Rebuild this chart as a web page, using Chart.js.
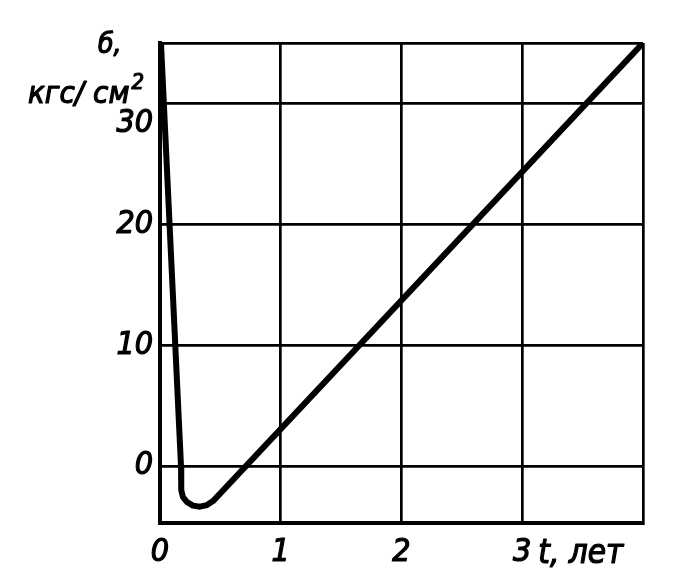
<!DOCTYPE html>
<html>
<head>
<meta charset="utf-8">
<script src="https://cdn.jsdelivr.net/npm/chart.js@4"></script>
<style>
  html, body { margin: 0; padding: 0; background: #fff; }
  canvas { display: block; }
</style>
</head>
<body>
<canvas id="c" width="676" height="578"></canvas>
<script>
// Time, years
const tYears = [0.008, 0.174, 0.176, 0.19, 0.224, 0.273, 0.331, 0.389, 0.439, 4.0];
// Stress σ, kgf/cm²
const sigma  = [35, 0, -1.98, -2.56, -2.98, -3.26, -3.35, -3.22, -2.89, 35];

const xTicks = [0, 1, 2, 3, 4];
const xTickLabels = ['0', '1', '2', '3', ''];
const yTicks = [0, 10, 20, 30, 35];
const yTickLabels = ['0', '10', '20', ['', '30'], ''];

const xUnit = 't, лет';
const yUnitTop = 'б,';
const yUnitBottom = 'кгс/ см';
const yUnitSup = '2';

const FONT = "'DejaVu Sans Condensed', 'DejaVu Sans', sans-serif";

function heavyText(ctx, txt, x, y) {
  ctx.fillText(txt, x, y);
  ctx.strokeText(txt, x, y);
}

const unitsPlugin = {
  id: 'units',
  afterDraw(chart) {
    const ctx = chart.ctx;
    const xs = chart.scales.x;
    const ca = chart.chartArea;
    ctx.save();
    ctx.fillStyle = '#000';
    ctx.strokeStyle = '#000';
    ctx.lineWidth = 1.2;
    ctx.lineJoin = 'round';
    ctx.textBaseline = 'alphabetic';
    ctx.textAlign = 'left';
    // x unit after tick "3"
    ctx.font = "italic 33px " + FONT;
    heavyText(ctx, xUnit, xs.getPixelForValue(3) + 16, ca.bottom + 40);
    // y unit
    ctx.font = "italic 28px " + FONT;
    heavyText(ctx, yUnitTop, ca.left - 62, ca.top + 10);
    ctx.font = "italic 31px " + FONT;
    heavyText(ctx, yUnitBottom, ca.left - 132, ca.top + 60);
    const w = ctx.measureText(yUnitBottom).width;
    ctx.font = "italic 22px " + FONT;
    heavyText(ctx, yUnitSup, ca.left - 132 + w + 2, ca.top + 46);
    ctx.restore();
  }
};

new Chart(document.getElementById('c'), {
  type: 'line',
  data: {
    datasets: [{
      data: tYears.map((t, i) => ({ x: t, y: sigma[i] })),
      borderColor: '#000',
      borderWidth: 6,
      pointRadius: 0,
      fill: false,
      tension: 0,
      borderCapStyle: 'round',
      borderJoinStyle: 'round'
    }]
  },
  options: {
    responsive: false,
    animation: false,
    devicePixelRatio: 1,
    layout: { padding: { left: 0, top: 43, right: 33, bottom: 0 } },
    plugins: { legend: { display: false }, tooltip: { enabled: false } },
    scales: {
      x: {
        type: 'linear',
        min: 0, max: 4,
        afterBuildTicks: s => { s.ticks = xTicks.map(v => ({ value: v })); },
        afterFit: s => { s.height = 55; },
        ticks: {
          color: '#000',
          textStrokeColor: '#000',
          textStrokeWidth: 1.2,
          padding: 10,
          maxRotation: 0,
          autoSkip: false,
          font: { family: FONT, size: 32, style: 'italic', weight: 'normal' },
          callback: v => xTickLabels[xTicks.indexOf(v)]
        },
        grid: { color: '#000', lineWidth: 2.7, drawTicks: false },
        border: { color: '#000', width: 4 }
      },
      y: {
        min: -4.7, max: 35,
        afterBuildTicks: s => { s.ticks = yTicks.map(v => ({ value: v })); },
        afterFit: s => { s.width = 160; },
        ticks: {
          color: '#000',
          textStrokeColor: '#000',
          textStrokeWidth: 1.2,
          padding: 7,
          autoSkip: false,
          font: { family: FONT, size: 32, style: 'italic', weight: 'normal', lineHeight: 1.25 },
          callback: v => yTickLabels[yTicks.indexOf(v)]
        },
        grid: { color: '#000', lineWidth: 2.7, drawTicks: false },
        border: { color: '#000', width: 4 }
      }
    }
  },
  plugins: [unitsPlugin]
});
</script>
</body>
</html>
